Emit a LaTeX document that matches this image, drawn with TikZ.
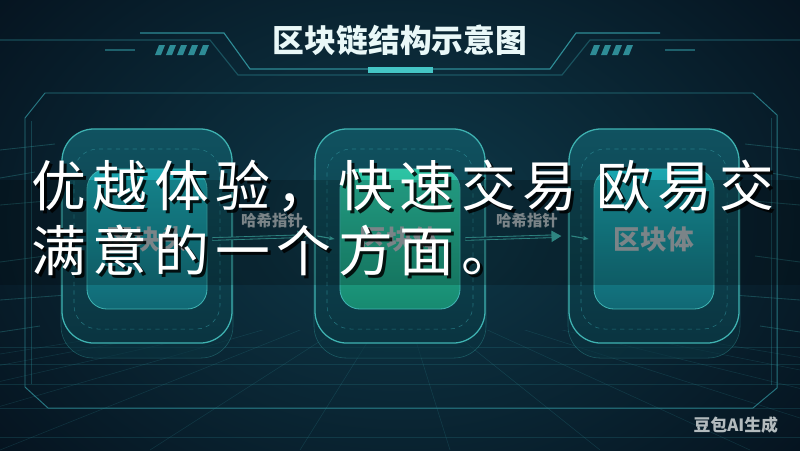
\documentclass[tikz,border=0pt]{standalone}
\usepackage{fontspec}
\newfontfamily\cjk{Noto Sans CJK SC}
\usetikzlibrary{positioning,arrows.meta}
\definecolor{bgdark}{HTML}{05131F}
\definecolor{bgmid}{HTML}{0F3A4A}
\definecolor{linec}{HTML}{2E8C96}
\definecolor{glowc}{HTML}{45C6C6}
\definecolor{boxedge}{HTML}{3FB3B2}
\definecolor{boxtop}{HTML}{105260}
\definecolor{boxbot}{HTML}{0A3440}
\definecolor{tealtop}{HTML}{1AA6B0}
\definecolor{tealbot}{HTML}{116874}
\definecolor{greentop}{HTML}{2CC4A4}
\definecolor{greenbot}{HTML}{178A70}
\definecolor{labelgrey}{HTML}{9AA6AA}
\definecolor{arrowc}{HTML}{3AA7A2}
\definecolor{wmgrey}{HTML}{B3BBBE}
\tikzset{
    % frame and decoration lines
    framec/.style={draw=linec, line width=0.7pt, opacity=0.8},
    titleline/.style={draw=linec, line width=0.8pt},
    gridline/.style={draw=linec, line width=0.4pt, opacity=0.22},
    streak/.style={draw=glowc, line width=0.6pt, opacity=0.25},
    % blocks
    blkshadow/.style={
        draw=boxedge, draw opacity=0.35, fill=boxbot, fill opacity=0.6,
        rounded corners=0.8cm,
        minimum width=4.3cm, minimum height=5.35cm,
    },
    outerblk/.style={
        draw=boxedge, line width=0.9pt,
        top color=boxtop, bottom color=boxbot,
        rounded corners=0.8cm,
        minimum width=4.25cm, minimum height=5.35cm,
    },
    dashblk/.style={
        draw=linec, dashed, line width=0.4pt, opacity=0.7,
        rounded corners=0.6cm,
        minimum width=3.65cm, minimum height=4.5cm,
    },
    innerblk/.style={
        draw=boxedge, line width=0.6pt,
        top color=tealtop, bottom color=tealbot,
        rounded corners=0.5cm,
        minimum width=3cm, minimum height=3.5cm,
        text=labelgrey, font=\cjk\bfseries\fontsize{19}{22}\selectfont,
    },
    greenblk/.style={innerblk, top color=greentop, bottom color=greenbot},
    % pointers
    hasharrow/.style={
        draw=arrowc, line width=0.6pt, double=bgmid, double distance=1.3pt,
        -{Triangle[length=7pt, width=8pt]},
    },
    hashtick/.style={draw=arrowc, line width=0.8pt, -{Stealth[length=4pt]}},
    hashlabel/.style={text=labelgrey, font=\cjk\bfseries\fontsize{11}{13}\selectfont},
    % texts
    titletext/.style={text=white!88!glowc, font=\cjk\bfseries\fontsize{22.6}{26}\selectfont},
    ovltext/.style={text=white, anchor=west, inner sep=0pt,
        font=\cjk\fontsize{39}{44}\selectfont\addfontfeature{LetterSpace=12}},
    ovlshadow/.style={ovltext, text=black, text opacity=0.85},
    wmark/.style={text=wmgrey, font=\cjk\bfseries\fontsize{12}{14}\selectfont, anchor=east},
}

\begin{document}
\begin{tikzpicture}[x=0.025cm, y=-0.025cm]
\useasboundingbox (0,0) rectangle (800,450);
\clip (0,0) rectangle (800,450);
% Background
\shade[inner color=bgmid, outer color=bgdark] (-120,-160) rectangle (920,600);

% Floor grid
\begin{scope}
    \clip (0,330) rectangle (800,450);
    \foreach \fx in {-600,-450,...,1400}
        \draw[gridline] (400,290) -- (\fx,450);
    \foreach \fy in {347,364,384,408,437}
        \draw[gridline] (0,\fy) -- (800,\fy);
\end{scope}

% Side streaks
\foreach \sy/\sl in {150/55, 178/35, 205/70, 262/45, 300/80, 332/40} {
    \draw[streak] (0,\sy) -- (\sl,\sy-6);
    \draw[streak] (800,\sy) -- (800-\sl,\sy-6);
}

% Main frame
\draw[framec] (45,93) -- (753,93) -- (777,115) -- (777,388) -- (753,408)
    -- (48,408) -- (25,387) -- (25,118) -- cycle;
\draw[framec, opacity=0.35] (31,121) -- (31,384);
\draw[framec, opacity=0.35] (771,118) -- (771,385);

% Title decoration
\draw[titleline] (140,33) -- (224,33) -- (250,69) -- (550,69) -- (576,33) -- (660,33);
\draw[titleline, opacity=0.45] (0,40) -- (210,40) -- (238,75) -- (562,75) -- (590,40) -- (800,40);
\draw[titleline, opacity=0.6] (105,50) -- (135,50);
\draw[titleline, opacity=0.6] (665,50) -- (695,50);
\foreach \hx in {155,166,...,199}
    \fill[linec] (\hx+4,45) -- (\hx+10,45) -- (\hx+6,55) -- (\hx,55) -- cycle;
\foreach \hx in {590,601,...,624}
    \fill[linec] (\hx+4,45) -- (\hx+10,45) -- (\hx+6,55) -- (\hx,55) -- cycle;
\fill[glowc] (368,67) rectangle (433,73);
\node[titletext] (title) at (400,40) {区块链结构示意图};

% Blocks
\foreach \nm/\cx in {A/147, B/400, C/654} {
    \node[blkshadow] (sh\nm) at (\cx,251) {};
    \node[outerblk] (out\nm) at (\cx,236) {};
    \node[dashblk] (dash\nm) at (\cx,239) {};
}
\node[innerblk] (inA) at (147,239) {区块头};
\node[greenblk] (inB) at (400,239) {区块体};
\node[innerblk] (inC) at (654,239) {区块体};

% Hash pointers
\draw[hasharrow] ([shift={(5,0)}]inA.east) -- ([shift={(-7,0)}]outB.west);
\draw[hashtick] ([shift={(3,0)}]outB.west) -- ([shift={(-5,0)}]inB.west);
\node[hashlabel] (hashAB) at (272,221) {哈希指针};
\draw[hasharrow] ([shift={(5,0)}]inB.east) -- ([shift={(-7,0)}]outC.west);
\draw[hashtick] ([shift={(3,0)}]outC.west) -- ([shift={(-5,0)}]inC.west);
\node[hashlabel] (hashBC) at (527,221) {哈希指针};

% Overlay text
\fill[black, opacity=0.2] (0,180) rectangle (800,285);
\node[ovlshadow] (ovlAs) at (34,189) {优越体验，快速交易 欧易交};
\node[ovltext] (ovlA) at (31,186) {优越体验，快速交易 欧易交};
\node[ovlshadow] (ovlBs) at (34,253) {满意的一个方面。};
\node[ovltext] (ovlB) at (31,250) {满意的一个方面。};

% Watermark
\node[wmark] (wm) at (783,425) {豆包AI生成};
\end{tikzpicture}
\end{document}
